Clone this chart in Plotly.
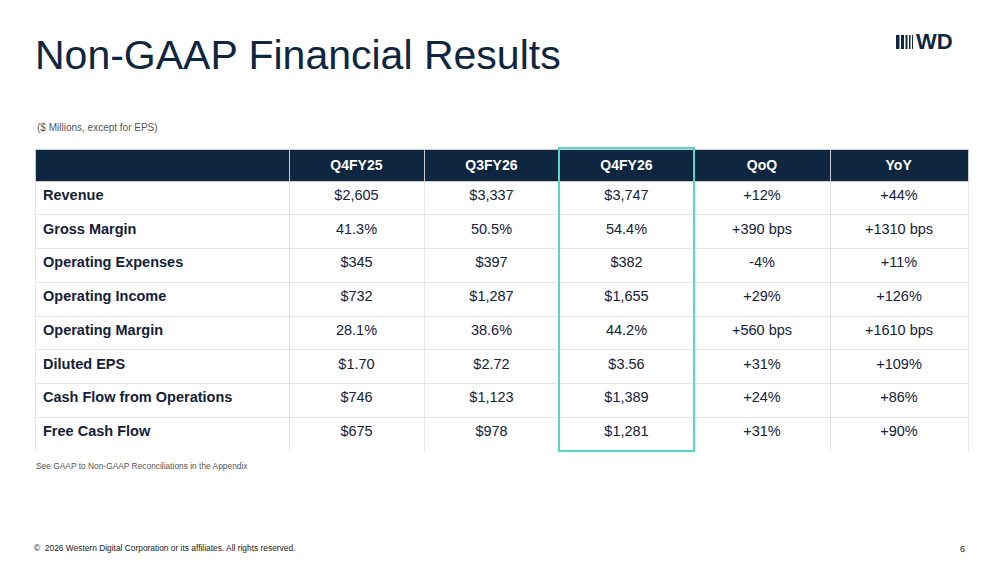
import plotly.graph_objects as go

# table content
row_labels = ["Revenue", "Gross Margin", "Operating Expenses", "Operating Income",
              "Operating Margin", "Diluted EPS", "Cash Flow from Operations", "Free Cash Flow"]
col_headers = ["", "Q4FY25", "Q3FY26", "Q4FY26", "QoQ", "YoY"]
q4fy25 = ["$2,605", "41.3%", "$345", "$732", "28.1%", "$1.70", "$746", "$675"]
q3fy26 = ["$3,337", "50.5%", "$397", "$1,287", "38.6%", "$2.72", "$1,123", "$978"]
q4fy26 = ["$3,747", "54.4%", "$382", "$1,655", "44.2%", "$3.56", "$1,389", "$1,281"]
qoq = ["+12%", "+390 bps", "-4%", "+29%", "+560 bps", "+31%", "+24%", "+31%"]
yoy = ["+44%", "+1310 bps", "+11%", "+126%", "+1610 bps", "+109%", "+86%", "+90%"]

# page sits at an 8px body margin inside the 1000x562 window
OFF = 8
W, H = 1000 - OFF, 562 - OFF
NAVY = "#0f2640"
TEAL = "#55d8c6"
FONT = "Liberation Sans, Arial, sans-serif"

def px(x):
    return (x - OFF) / W

def py(y):
    return 1 - (y - OFF) / H

fig = go.Figure()

fig.add_trace(go.Table(
    domain=dict(x=[px(35), px(968)], y=[py(451), py(149)]),
    columnwidth=[254, 135, 135, 135, 136, 138],
    header=dict(
        values=["<b>%s</b>" % h if h else "" for h in col_headers],
        fill_color=NAVY,
        line=dict(color="#c9ccd0", width=1),
        font=dict(family=FONT, size=14, color="white"),
        align="center",
        height=32,
    ),
    cells=dict(
        values=[row_labels, q4fy25, q3fy26, q4fy26, qoq, yoy],
        fill_color="white",
        line=dict(color="#e6e6e6", width=1),
        font=dict(family=FONT, size=14.5, color="#14213a",
                  weight=["bold", "normal", "normal", "normal", "normal", "normal"]),
        align=["left", "center", "center", "center", "center", "center"],
        height=33.75,
    ),
))

# highlight around current quarter column
fig.add_shape(type="rect", xref="paper", yref="paper",
              x0=px(559), x1=px(694), y0=py(451), y1=py(148),
              line=dict(color=TEAL, width=2), fillcolor="rgba(0,0,0,0)")

# WD logo bars
bars = [(896, 899.5), (901, 904), (905.5, 907.5), (909, 910.5), (912, 913)]
for x0, x1 in bars:
    fig.add_shape(type="rect", xref="paper", yref="paper",
                  x0=px(x0), x1=px(x1), y0=py(49), y1=py(35),
                  line=dict(width=0), fillcolor=NAVY)

annotations = [
    dict(text="Non-GAAP Financial Results", x=px(33), y=py(55), xanchor="left", yanchor="middle",
         font=dict(family=FONT, size=41, color=NAVY)),
    dict(text="<b>WD</b>", x=px(914), y=py(42), xanchor="left", yanchor="middle",
         font=dict(family=FONT, size=22, color=NAVY)),
    dict(text="($ Millions, except for EPS)", x=px(35), y=py(128), xanchor="left", yanchor="middle",
         font=dict(family=FONT, size=10, color="#555555")),
    dict(text="See GAAP to Non-GAAP Reconciliations in the Appendix", x=px(34), y=py(466),
         xanchor="left", yanchor="middle", font=dict(family=FONT, size=8.4, color="#555555")),
    dict(text="©  2026 Western Digital Corporation or its affiliates. All rights reserved.",
         x=px(32), y=py(548), xanchor="left", yanchor="middle",
         font=dict(family=FONT, size=8.4, color="#222222")),
    dict(text="6", x=px(967), y=py(549), xanchor="right", yanchor="middle",
         font=dict(family=FONT, size=9, color="#222222")),
]
for a in annotations:
    a.update(xref="paper", yref="paper", showarrow=False)
fig.update_layout(annotations=annotations)

fig.update_layout(
    width=W, height=H,
    margin=dict(l=0, r=0, t=0, b=0),
    paper_bgcolor="white",
    plot_bgcolor="white",
    showlegend=False,
)

fig.write_html("out.html")
